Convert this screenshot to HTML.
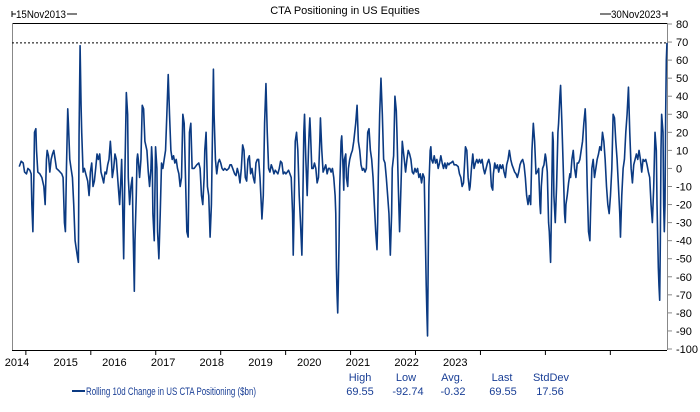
<!DOCTYPE html>
<html><head><meta charset="utf-8"><style>
html,body{margin:0;padding:0;background:#fff;}
svg{display:block;font-family:"Liberation Sans",Arial,sans-serif;}
</style></head><body>
<svg id="chart" width="700" height="412" viewBox="0 0 700 412" xmlns="http://www.w3.org/2000/svg">
<text x="345" y="14" font-size="11" text-anchor="middle" fill="#000">CTA Positioning in US Equities</text>
<g>
<line x1="12" y1="11" x2="12" y2="17" stroke="#000"/><line x1="12" y1="14" x2="16" y2="14" stroke="#000"/>
<text x="16" y="18" font-size="11" fill="#000" textLength="50" lengthAdjust="spacingAndGlyphs">15Nov2013</text>
<line x1="67" y1="14" x2="77" y2="14" stroke="#000"/></g>
<g>
<line x1="600" y1="14" x2="611" y2="14" stroke="#000"/>
<text x="611" y="18" font-size="11" fill="#000" textLength="50" lengthAdjust="spacingAndGlyphs">30Nov2023</text>
<line x1="662" y1="14" x2="667" y2="14" stroke="#000"/><line x1="667" y1="11" x2="667" y2="17" stroke="#000"/></g>
<line x1="12" y1="23.5" x2="667" y2="23.5" stroke="#000"/>
<line x1="12.5" y1="23" x2="12.5" y2="350" stroke="#888"/>
<line x1="12" y1="350.5" x2="667" y2="350.5" stroke="#000"/>
<line x1="667.5" y1="23" x2="667.5" y2="350" stroke="#888"/>
<g id="yaxis"></g>
<g id="xaxis"></g>
<line id="highline" stroke="#000" stroke-dasharray="2,2" stroke-width="1"/>
<polyline id="series" fill="none" stroke="#0b3a82" stroke-width="1.6" stroke-linejoin="round"/>
<g>
<line x1="72" y1="391" x2="85" y2="391" stroke="#0b3a82" stroke-width="2"/>
<text x="86" y="395" font-size="11" fill="#1a3f96" textLength="170" lengthAdjust="spacingAndGlyphs">Rolling 10d Change in US CTA Positioning ($bn)</text>
</g>
<g font-size="11" fill="#1a3f96" text-anchor="middle">
<text x="360" y="381">High</text>
<text x="406" y="381">Low</text>
<text x="452" y="381">Avg.</text>
<text x="502" y="381">Last</text>
<text x="551" y="381">StdDev</text>
<text x="360" y="395">69.55</text>
<text x="408" y="395">-92.74</text>
<text x="453" y="395">-0.32</text>
<text x="503" y="395">69.55</text>
<text x="550" y="395">17.56</text>
</g>
</svg>
<script>
const yTicks=[80,70,60,50,40,30,20,10,0,-10,-20,-30,-40,-50,-60,-70,-80,-90,-100];
const xTickYears=[2014,2015,2016,2017,2018,2019,2020,2021,2022,2023];
const xLabelYears=[2014,2015,2016,2017,2018,2019,2020,2021,2022,2023];
const highValue=69.55;
const dates=[2013.898,2013.928,2013.959,2013.980,2014.010,2014.031,2014.061,2014.082,2014.092,2014.108,2014.123,2014.133,2014.154,2014.164,2014.184,2014.215,2014.246,2014.277,2014.297,2014.317,2014.328,2014.348,2014.369,2014.389,2014.410,2014.430,2014.451,2014.471,2014.502,2014.553,2014.573,2014.594,2014.609,2014.625,2014.645,2014.655,2014.676,2014.696,2014.717,2014.737,2014.758,2014.778,2014.799,2014.809,2014.819,2014.835,2014.850,2014.860,2014.881,2014.901,2014.922,2014.952,2014.973,2014.983,2014.993,2015.014,2015.034,2015.055,2015.075,2015.096,2015.116,2015.137,2015.157,2015.178,2015.198,2015.219,2015.239,2015.260,2015.280,2015.301,2015.311,2015.331,2015.352,2015.372,2015.393,2015.403,2015.423,2015.444,2015.464,
2015.475,2015.485,2015.506,2015.526,2015.547,2015.567,2015.577,2015.598,2015.618,2015.639,2015.649,2015.670,2015.680,2015.700,2015.711,2015.721,2015.731,2015.751,2015.772,2015.792,2015.813,2015.833,2015.864,2015.885,2015.905,2015.926,2015.936,2015.946,2015.956,2015.977,2015.997,2016.018,2016.028,2016.048,2016.069,2016.089,2016.110,2016.130,2016.151,2016.171,2016.192,2016.212,2016.233,2016.253,2016.274,2016.294,2016.315,2016.335,2016.356,2016.376,2016.397,2016.417,2016.438,2016.458,2016.479,2016.499,2016.519,2016.540,2016.560,2016.591,2016.632,2016.663,2016.683,2016.704,2016.724,2016.745,2016.755,2016.775,2016.796,2016.816,2016.837,2016.857,2016.878,2016.888,2016.898,2016.919,2016.939,2016.960,2016.980,2017.001,2017.021,2017.042,2017.062,2017.093,2017.124,2017.144,
2017.164,2017.185,2017.215,2017.236,2017.256,2017.277,2017.297,2017.318,2017.338,2017.359,2017.379,2017.400,2017.420,2017.441,2017.461,2017.482,2017.502,2017.523,2017.543,2017.564,2017.584,2017.605,2017.625,2017.635,2017.656,2017.676,2017.697,2017.717,2017.738,2017.758,2017.779,2017.799,2017.820,2017.840,2017.861,2017.881,2017.902,2017.922,2017.943,2017.963,2017.984,2018.004,2018.025,2018.045,2018.066,2018.086,2018.107,2018.117,2018.127,2018.148,2018.168,2018.188,2018.209,2018.229,2018.250,2018.260,2018.280,2018.291,2018.311,2018.332,2018.352,2018.362,2018.373,2018.383,2018.403,2018.424,2018.444,2018.465,2018.485,2018.506,2018.526,2018.536,2018.557,2018.577,2018.598,2018.618,2018.639,2018.659,2018.680,2018.700,2018.721,2018.741,2018.762,2018.772,2018.782,2018.792,2018.802,2018.813,2018.823,2018.833,
2018.854,2018.864,2018.885,2018.895,2018.905,2018.926,2018.936,2018.956,2018.967,2018.987,2019.008,2019.028,2019.049,2019.079,2019.100,2019.120,2019.141,2019.161,2019.182,2019.202,2019.223,2019.243,2019.264,2019.284,2019.305,2019.325,2019.346,2019.366,2019.387,2019.407,2019.417,2019.427,2019.448,2019.468,2019.489,2019.509,2019.530,2019.550,2019.571,2019.591,2019.612,2019.632,2019.642,2019.663,2019.683,2019.704,2019.714,2019.735,2019.755,2019.776,2019.796,2019.827,2019.847,2019.868,2019.888,2019.909,2019.929,2019.950,2019.970,2019.991,2020.011,2020.032,2020.052,2020.073,2020.093,2020.114,2020.134,2020.155,2020.165,2020.175,2020.185,2020.196,2020.206,2020.226,2020.236,2020.247,2020.267,2020.288,2020.308,2020.329,2020.349,2020.370,2020.390,2020.411,2020.431,2020.452,2020.472,2020.493,2020.513,2020.533,
2020.544,2020.575,2020.595,2020.626,2020.657,2020.677,2020.698,2020.718,2020.739,2020.759,2020.769,2020.790,2020.810,2020.831,2020.841,2020.861,2020.882,2020.902,2020.923,2020.943,2020.964,2020.984,2021.005,2021.025,2021.046,2021.066,2021.087,2021.107,2021.128,2021.148,2021.169,2021.189,2021.199,2021.220,2021.240,2021.261,2021.281,2021.302,2021.322,2021.343,2021.363,2021.384,2021.404,2021.425,2021.445,2021.466,2021.486,2021.507,2021.527,2021.548,2021.568,2021.589,2021.609,2021.630,2021.650,2021.671,2021.691,2021.711,2021.732,2021.752,2021.773,2021.793,2021.814,2021.834,2021.855,2021.875,2021.896,2021.916,2021.926,2021.937,2021.957,2021.978,2021.998,2022.008,2022.029,2022.049,2022.060,2022.080,2022.090,2022.111,2022.121,2022.131,2022.152,2022.172,2022.193,2022.203,2022.223,
2022.234,2022.254,2022.275,2022.295,2022.306,2022.316,2022.336,2022.357,2022.377,2022.388,2022.408,2022.429,2022.449,2022.470,2022.490,2022.510,2022.531,2022.551,2022.572,2022.592,2022.613,2022.623,2022.644,2022.664,2022.685,2022.695,2022.715,2022.736,2022.756,2022.777,2022.797,2022.818,2022.838,2022.859,2022.879,2022.900,2022.920,2022.941,2022.961,2022.982,2023.002,2023.023,2023.043,2023.064,2023.084,2023.104,2023.125,2023.145,2023.156,2023.176,2023.197,2023.217,2023.238,2023.258,2023.279,2023.299,2023.320,2023.340,2023.360,2023.381,2023.401,2023.422,2023.442,2023.463,2023.483,2023.504,2023.524,2023.545,2023.565,2023.586,2023.606,2023.627,2023.647,2023.668,2023.688,2023.708,2023.719,2023.739,2023.749,2023.760,2023.770,2023.780,2023.790,2023.811,2023.821,2023.831,2023.842,2023.852,2023.862,2023.872];
const values=[1,4,3,-2,-3,0,-1,-3,-20,-35,-5,20,22,10,-2,-3,-5,-10,-20,5,10,7,-2,5,8,10,5,0,-1,-3,-5,-30,-35,0,33,25,5,0,-5,-20,-40,-45,-50,-52,18,68,35,20,-2,0,-3,-7,-15,-10,-2,3,-10,-7,0,8,5,8,-2,-5,-8,-2,-3,2,5,15,10,-5,0,8,5,0,-10,-20,-5,
5,-10,-50,0,42,30,-5,-20,-10,-5,-30,-68,-40,-15,5,8,5,-5,5,35,33,15,10,-2,-10,0,12,5,-25,-40,12,0,-35,-50,-25,3,0,5,10,30,52,30,10,5,7,3,5,0,-3,-10,-5,30,25,-5,-35,-38,20,25,0,0,2,3,0,-15,-20,-5,10,20,-10,-15,-38,-20,30,55,30,5,-3,3,5,3,0,-1,0,-1,0,2,
2,0,-3,-4,0,-3,-8,0,13,10,-5,-7,5,7,-3,0,-5,-8,3,5,5,-5,-20,-28,-15,25,47,20,0,-2,2,0,-3,-1,-2,-3,0,4,3,-3,-2,-3,-2,-1,-3,-5,-25,-48,-30,15,20,10,-15,-30,-48,-30,20,30,5,-15,10,20,28,20,0,0,3,0,-8,-5,15,28,10,-2,0,2,-3,0,0,-2,0,-5,-15,-25,-55,-70,-80,-60,-40,-10,
15,18,0,-12,5,8,-5,-10,0,5,8,10,15,25,35,15,10,2,-1,0,-2,0,20,22,10,5,-5,-20,-35,-45,-30,-5,30,50,30,5,3,-5,-15,-25,-48,-25,0,7,40,32,20,-10,-35,-10,15,5,-2,5,10,8,5,-2,-3,0,-2,0,-5,-3,-8,-3,-5,-45,-65,-80,-92.74,-50,-10,10,12,5,3,7,3,5,0,3,7,3,0,3,0,3,2,3,
3,4,2,2,1,-3,-5,-10,-8,5,12,10,-5,-12,-10,0,8,0,3,5,3,5,3,5,0,-3,0,3,5,2,-10,-12,-3,3,0,2,-2,2,0,2,-2,-5,2,5,10,5,2,0,-2,-3,-5,-2,2,4,5,2,-5,-15,-20,-15,-20,10,25,15,-3,-2,0,-20,-25,-10,0,2,8,6,-2,-30,-35,-52,-30,20,15,-15,-30,-10,20,25,40,
46,25,0,-25,-30,-20,-15,-8,-3,-5,5,10,0,-5,3,3,5,10,15,25,33,25,-10,-35,-40,-25,0,5,-5,0,5,8,12,10,20,15,5,-10,-20,-25,-15,0,30,28,15,5,-10,-25,-38,-15,0,5,20,30,45,20,0,-8,2,5,8,5,10,5,-2,5,4,5,2,-2,-5,-20,-30,-10,20,10,-20,-55,-65,-73,-40,10,30,20,-20,-35,-20,30,60,69.55];

const NS='http://www.w3.org/2000/svg';
const plotL=12,plotR=667,plotT=23,plotB=350;
const xMin=2013.7865,xMax=2023.8725,yMin=-100,yMax=80;
function xScale(t){return plotL+(t-xMin)/(xMax-xMin)*(plotR-plotL);}
function yScale(v){return 24+(yMax-v)/(yMax-yMin)*(349-24);}
function mk(tag,attrs,parent){const e=document.createElementNS(NS,tag);for(const k in attrs)e.setAttribute(k,attrs[k]);parent.appendChild(e);return e;}

const yax=document.getElementById('yaxis');
yTicks.forEach(v=>{
  const y=yScale(v);
  const tk=mk('line',{x1:667,y1:y,x2:672,y2:y,stroke:'#888'},yax);
  
  
  const tx=mk('text',{x:676,y:y+4,'font-size':11,fill:'#000'},yax);
  
  
  tx.textContent=v;
});
const xax=document.getElementById('xaxis');
xTickYears.forEach(yr=>{
  const x=xScale(yr);
  const tk=mk('line',{x1:x,y1:350,x2:x,y2:355,stroke:'#000'},xax);
  
  
});
xLabelYears.forEach((yr,i)=>{
  const x=17+i*48.7;
  const tx=mk('text',{x:x,y:366,'font-size':11,fill:'#000','text-anchor':'middle'},xax);
  
  
  tx.textContent=yr;
});
const hl=document.getElementById('highline');
hl.setAttribute('x1',plotL);hl.setAttribute('x2',plotR);
hl.setAttribute('y1',yScale(highValue));hl.setAttribute('y2',yScale(highValue));
const pts=dates.map((d,i)=>xScale(d).toFixed(2)+','+yScale(values[i]).toFixed(2)).join(' ');
document.getElementById('series').setAttribute('points',pts);
</script>
</body></html>
